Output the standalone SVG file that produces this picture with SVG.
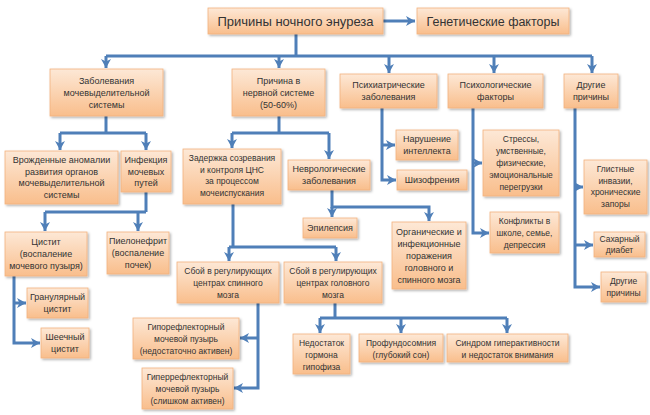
<svg xmlns="http://www.w3.org/2000/svg" width="650" height="415" viewBox="0 0 650 415">
<defs>
<linearGradient id="g" x1="0" y1="0" x2="0" y2="1">
<stop offset="0" stop-color="#fde8d6"/>
<stop offset="1" stop-color="#f9be8c"/>
</linearGradient>
<filter id="sh" x="-10%" y="-10%" width="130%" height="140%">
<feDropShadow dx="1.5" dy="1.5" stdDeviation="1" flood-color="#000" flood-opacity="0.3"/>
</filter>
<marker id="a" markerUnits="userSpaceOnUse" markerWidth="12" markerHeight="12" refX="9" refY="5" orient="auto">
<path d="M0,0 L9,5 L0,10 L2.5,5 Z" fill="#4f7fb8"/>
</marker>
<style>
rect{fill:url(#g);stroke:#f2b27e;stroke-width:0.8;filter:url(#sh)}
text{font-family:"Liberation Sans",Arial,sans-serif;font-size:9px;fill:#333;text-anchor:middle}
.big{font-size:13px}
.med{font-size:12.5px}
.s{font-size:8.5px}
#conn path{fill:none;stroke:#4f7fb8;stroke-width:3}
#conn .ar{marker-end:url(#a)}
</style>
</defs>
<rect x="0" y="0" width="650" height="415" style="fill:#fff;stroke:none;filter:none"/>
<g id="conn">
<path class="ar" d="M383,21 H415"/>
<path d="M296,34 V56"/>
<path d="M106,56 H592"/>
<path class="ar" d="M106,56 V68"/>
<path class="ar" d="M279,56 V68"/>
<path class="ar" d="M389,56 V73"/>
<path class="ar" d="M494,56 V73"/>
<path class="ar" d="M592,56 V73"/>
<path d="M106,116 V133"/>
<path d="M60,133 H146"/>
<path class="ar" d="M60,133 V150"/>
<path class="ar" d="M146,133 V150"/>
<path d="M146,192 V212"/>
<path d="M45,212 H146"/>
<path class="ar" d="M45,212 V231"/>
<path class="ar" d="M138,212 V231"/>
<path class="ar" d="M14,276 V343 H40"/>
<path class="ar" d="M14,303 H26"/>
<path d="M279,116 V133"/>
<path d="M232,133 H329"/>
<path class="ar" d="M232,133 V148"/>
<path class="ar" d="M329,133 V159"/>
<path d="M233,204 V247"/>
<path d="M229,247 H336"/>
<path class="ar" d="M229,247 V261"/>
<path class="ar" d="M336,247 V261"/>
<path class="ar" d="M332,190 V207 H429 V221"/>
<path class="ar" d="M332,207 V217"/>
<path class="ar" d="M382,108 V180 H396"/>
<path class="ar" d="M382,145 H395"/>
<path class="ar" d="M473,108 V233 H489"/>
<path class="ar" d="M473,163 H482"/>
<path class="ar" d="M575,108 V287 H600"/>
<path class="ar" d="M575,187 H583"/>
<path class="ar" d="M575,245 H593"/>
<path class="ar" d="M258,303 V388 H234"/>
<path class="ar" d="M258,338 H240"/>
<path d="M335,303 V318"/>
<path d="M320,318 H507"/>
<path class="ar" d="M320,318 V333"/>
<path class="ar" d="M401,318 V333"/>
<path class="ar" d="M507,318 V333"/>
</g>
<g id="root"><rect x="208" y="8" width="175" height="26"/><text class="big" x="295.5" y="26">Причины ночного энуреза</text></g>
<g id="genetic"><rect x="417" y="8" width="152" height="26"/><text class="med" x="493" y="26">Генетические факторы</text></g>
<g id="zab"><rect x="50" y="69" width="113" height="47"/><text x="106.5" y="84">Заболевания</text><text x="106.5" y="96">мочевыделительной</text><text x="106.5" y="108">системы</text></g>
<g id="nerv"><rect x="232" y="69" width="93" height="47"/><text x="278.5" y="84">Причина в</text><text x="278.5" y="96">нервной системе</text><text x="278.5" y="108">(50-60%)</text></g>
<g id="psyhiat"><rect x="340" y="74" width="97" height="34"/><text x="388.5" y="88">Психиатрические</text><text x="388.5" y="100">заболевания</text></g>
<g id="psyhol"><rect x="448" y="74" width="95" height="34"/><text x="495.5" y="88">Психологические</text><text x="495.5" y="100">факторы</text></g>
<g id="other"><rect x="564" y="74" width="54" height="34"/><text x="591" y="88">Другие</text><text x="591" y="100">причины</text></g>
<g id="vrozh"><rect x="5" y="151" width="113" height="53"/><text x="61.5" y="163">Врожденные аномалии</text><text x="61.5" y="174.5">развития органов</text><text x="61.5" y="186">мочевыделительной</text><text x="61.5" y="197.5">системы</text></g>
<g id="infek"><rect x="121" y="151" width="50" height="41"/><text x="146" y="163">Инфекция</text><text x="146" y="174.5">мочевых</text><text x="146" y="186">путей</text></g>
<g id="cyst"><rect x="5" y="232" width="82" height="44"/><text x="46" y="245">Цистит</text><text x="46" y="257">(воспаление</text><text x="46" y="269">мочевого пузыря)</text></g>
<g id="pielo"><rect x="107" y="232" width="62" height="42"/><text x="138" y="244">Пиелонефрит</text><text x="138" y="256">(воспаление</text><text x="138" y="268">почек)</text></g>
<g id="granul"><rect x="27" y="288" width="61" height="30"/><text x="57.5" y="300">Гранулярный</text><text x="57.5" y="312">цистит</text></g>
<g id="sheech"><rect x="41" y="328" width="48" height="30"/><text x="65" y="340">Шеечный</text><text x="65" y="352">цистит</text></g>
<g id="zader"><rect x="183" y="149" width="98" height="55"/><text class="s" x="232" y="161">Задержка созревания</text><text class="s" x="232" y="172.5">и контроля ЦНС</text><text class="s" x="232" y="184">за процессом</text><text class="s" x="232" y="195.5">мочеиспускания</text></g>
<g id="nevrol"><rect x="288" y="160" width="82" height="30"/><text x="329" y="172">Неврологические</text><text x="329" y="184">заболевания</text></g>
<g id="epil"><rect x="303" y="218" width="54" height="20"/><text x="330" y="231">Эпилепсия</text></g>
<g id="organ"><rect x="392" y="222" width="74" height="67"/><text x="429" y="235">Органические и</text><text x="429" y="247">инфекционные</text><text x="429" y="259">поражения</text><text x="429" y="271">головного и</text><text x="429" y="283">спинного мозга</text></g>
<g id="intel"><rect x="396" y="130" width="62" height="30"/><text x="427" y="142">Нарушение</text><text x="427" y="154">интеллекта</text></g>
<g id="shiz"><rect x="397" y="170" width="70" height="20"/><text x="432" y="183">Шизофрения</text></g>
<g id="stress"><rect x="483" y="130" width="76" height="66"/><text class="s" x="521" y="142">Стрессы,</text><text class="s" x="521" y="154">умственные,</text><text class="s" x="521" y="166">физические,</text><text class="s" x="521" y="178">эмоциональные</text><text class="s" x="521" y="190">перегрузки</text></g>
<g id="konfl"><rect x="490" y="212" width="69" height="41"/><text class="s" x="524.5" y="224">Конфликты в</text><text class="s" x="524.5" y="236">школе, семье,</text><text class="s" x="524.5" y="248">депрессия</text></g>
<g id="glist"><rect x="584" y="160" width="63" height="54"/><text class="s" x="615.5" y="172">Глистные</text><text class="s" x="615.5" y="183.5">инвазии,</text><text class="s" x="615.5" y="195">хронические</text><text class="s" x="615.5" y="206.5">запоры</text></g>
<g id="sahar"><rect x="594" y="232" width="51" height="25"/><text class="s" x="619.5" y="242">Сахарный</text><text class="s" x="619.5" y="253">диабет</text></g>
<g id="other2"><rect x="601" y="272" width="45" height="30"/><text class="s" x="623.5" y="284">Другие</text><text class="s" x="623.5" y="296">причины</text></g>
<g id="spin"><rect x="177" y="262" width="102" height="41"/><text class="s" x="228" y="274">Сбой в регулирующих</text><text class="s" x="228" y="286">центрах спинного</text><text class="s" x="228" y="298">мозга</text></g>
<g id="golov"><rect x="284" y="262" width="98" height="41"/><text class="s" x="333" y="274">Сбой в регулирующих</text><text class="s" x="333" y="286">центрах головного</text><text class="s" x="333" y="298">мозга</text></g>
<g id="gipo"><rect x="133" y="318" width="106" height="41"/><text class="s" x="186" y="330">Гипорефлекторный</text><text class="s" x="186" y="342">мочевой пузырь</text><text class="s" x="186" y="354">(недостаточно активен)</text></g>
<g id="giper"><rect x="142" y="368" width="91" height="41"/><text class="s" x="187.5" y="380">Гиперрефлекторный</text><text class="s" x="187.5" y="392">мочевой пузырь</text><text class="s" x="187.5" y="404">(слишком активен)</text></g>
<g id="nedost"><rect x="293" y="334" width="57" height="40"/><text class="s" x="321.5" y="346">Недостаток</text><text class="s" x="321.5" y="358">гормона</text><text class="s" x="321.5" y="370">гипофиза</text></g>
<g id="profund"><rect x="359" y="334" width="84" height="28"/><text class="s" x="401" y="346">Профундосомния</text><text class="s" x="401" y="358">(глубокий сон)</text></g>
<g id="sindrom"><rect x="447" y="334" width="121" height="28"/><text class="s" x="507.5" y="346">Синдром гиперактивности</text><text class="s" x="507.5" y="358">и недостаток внимания</text></g>
</svg>
